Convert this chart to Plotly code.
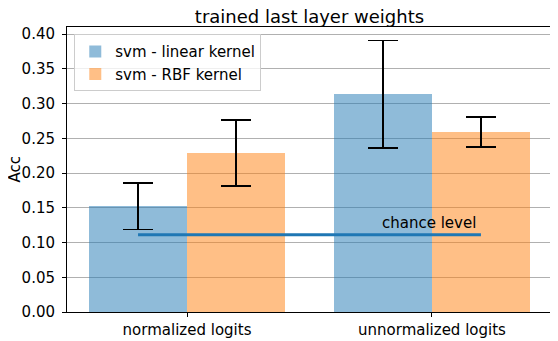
import plotly.graph_objects as go

categories = ["normalized logits", "unnormalized logits"]
linear_acc = [0.1525, 0.3135]
linear_err = [0.0335, 0.0775]
rbf_acc = [0.229, 0.259]
rbf_err = [0.0475, 0.0215]
chance = 1 / 9
ytick_vals = [0.0, 0.05, 0.10, 0.15, 0.20, 0.25, 0.30, 0.35, 0.40]

xpos = list(range(len(categories)))
font_family = "DejaVu Sans"

# page body has an 8px default margin; the figure is sized to fill the rest
W, H = 550, 333
ML, MR, MT, MB = 59, 6, 19, 29
plot_w = W - ML - MR

fig = go.Figure()
fig.add_trace(go.Bar(
    x=xpos, y=linear_acc, width=0.4, offset=-0.4,
    marker=dict(color="rgba(31,119,180,0.5)", line=dict(width=0)),
    error_y=dict(type="data", array=linear_err, color="black", thickness=1.5, width=15),
    name="svm - linear kernel",
))
fig.add_trace(go.Bar(
    x=xpos, y=rbf_acc, width=0.4, offset=0.0,
    marker=dict(color="rgba(255,127,14,0.5)", line=dict(width=0)),
    error_y=dict(type="data", array=rbf_err, color="black", thickness=1.5, width=15),
    name="svm - RBF kernel",
))
fig.add_trace(go.Scatter(
    x=[xpos[0] - 0.2, xpos[-1] + 0.2], y=[chance, chance], mode="lines",
    line=dict(color="#1f77b4", width=3), showlegend=False, hoverinfo="skip",
))
fig.add_annotation(
    x=0.788, y=0.1125, text="chance level", showarrow=False,
    xanchor="left", yanchor="bottom", font=dict(size=15, color="black", family=font_family),
)
fig.add_annotation(
    xref="paper", yref="paper", x=(6.0 - ML) / plot_w, y=0.5, text="Acc",
    textangle=-90, showarrow=False, xanchor="center", yanchor="middle",
    font=dict(size=15, color="black", family=font_family),
)

fig.update_layout(
    width=W, height=H,
    margin=dict(l=ML, r=MR, t=MT, b=MB, autoexpand=False),
    plot_bgcolor="white", paper_bgcolor="white",
    font=dict(family=font_family, size=15, color="black"),
    title=dict(text="trained last layer weights", x=301.5 / W, xanchor="center",
               y=1 - 8.5 / H, yanchor="middle", font=dict(size=18)),
    showlegend=True,
    legend=dict(x=0.015, y=0.975, xanchor="left", yanchor="top",
                bgcolor="rgba(255,255,255,0.8)", bordercolor="#cccccc", borderwidth=1,
                font=dict(size=15), tracegroupgap=0),
    bargap=0,
)
fig.update_xaxes(
    range=[-0.49, 1.49], tickvals=xpos, ticktext=categories, automargin=False,
    showline=True, linecolor="black", linewidth=1, mirror=True,
    ticks="outside", ticklen=4, tickcolor="black", showgrid=False, zeroline=False,
)
fig.update_yaxes(
    range=[0, 0.4103], tickvals=ytick_vals, ticktext=[f"{v:.2f}" for v in ytick_vals],
    automargin=False, ticklabelstandoff=4,
    showline=True, linecolor="black", linewidth=1, mirror=True,
    ticks="outside", ticklen=4, tickcolor="black",
    showgrid=True, gridcolor="#b0b0b0", gridwidth=1, zeroline=False,
)
fig.write_html("out.html")
